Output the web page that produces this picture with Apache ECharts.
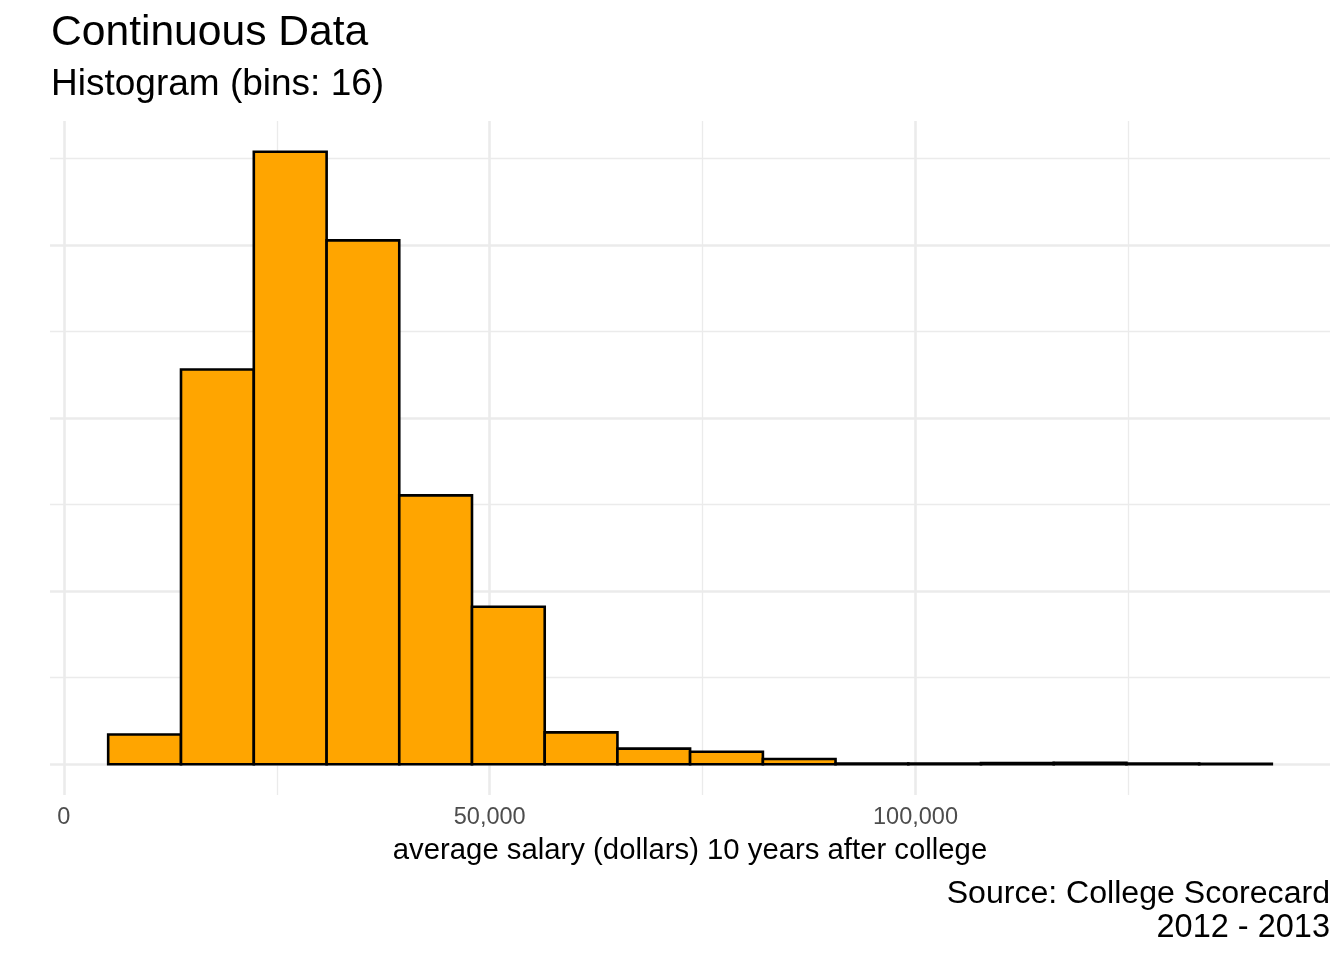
<!DOCTYPE html>
<html>
	<head>
		<meta charset="utf-8">
		<title>Continuous Data</title>
		<script src="https://cdn.jsdelivr.net/npm/echarts@6/dist/echarts.min.js"></script>
	</head>
	<body style="margin: 0; overflow: hidden; background: #fff;">
		<div id="main" style="width: 1344px; height: 960px;"></div>
		<script type="text/javascript">
			// bin edges (dollars), 16 bins
			var binEdges = [5200, 13750, 22300, 30850, 39380, 47920, 56460, 65000, 73530,
				82080, 90610, 99150, 107690, 116230, 124770, 133310, 141840];
			// number of colleges per bin
			var counts = [86, 1141, 1770, 1514, 777, 455, 92, 45, 36, 15, 2, 2, 3, 4, 2, 1];

			var xLabels = [0, 50000, 100000];
			var xMajor = [0, 50000, 100000];
			var xMinor = [25000, 75000, 125000];
			var yMajor = [0, 500, 1000, 1500];
			var yMinor = [250, 750, 1250, 1750];

			var font = "'Liberation Sans', Arial, sans-serif";

			var bins = [];
			for (var i = 0; i < counts.length; i++) {
				bins.push([binEdges[i], binEdges[i + 1], counts[i]]);
			}

			// gridlines, like ggplot's theme_minimal
			var grid = [];
			xMajor.forEach(function (v) { grid.push({ xAxis: v, lineStyle: { width: 2.6 } }); });
			xMinor.forEach(function (v) { grid.push({ xAxis: v, lineStyle: { width: 1.3 } }); });
			yMajor.forEach(function (v) { grid.push({ yAxis: v, lineStyle: { width: 2.6 } }); });
			yMinor.forEach(function (v) { grid.push({ yAxis: v, lineStyle: { width: 1.3 } }); });

			var myChart = echarts.init(document.getElementById('main'));

			var option = {
				animation: false,
				grid: {
					left: 50,
					right: 14,
					top: 121,
					bottom: 165
				},
				xAxis: {
					type: 'value',
					min: -1632,
					max: 148672,
					axisLine: { show: false },
					axisTick: { show: false },
					splitLine: { show: false },
					axisLabel: {
						customValues: xLabels,
						margin: 11,
						color: '#4d4d4d',
						fontFamily: font,
						fontSize: 23.5,
						formatter: function (v) {
							return v.toString().replace(/\B(?=(\d{3})+(?!\d))/g, ',');
						}
					},
					name: 'average salary (dollars) 10 years after college',
					nameLocation: 'middle',
					nameGap: 41,
					nameTextStyle: {
						color: '#000',
						fontFamily: font,
						fontSize: 29.3
					}
				},
				yAxis: {
					type: 'value',
					min: -89,
					max: 1859,
					axisLine: { show: false },
					axisTick: { show: false },
					axisLabel: { show: false },
					splitLine: { show: false }
				},
				graphic: [
					{ type: 'text', x: 51, y: 33, style: { text: 'Continuous Data', font: '42.6px ' + font, fill: '#000', textVerticalAlign: 'middle' } },
					{ type: 'text', x: 51, y: 85, style: { text: 'Histogram (bins: 16)', font: '37px ' + font, fill: '#000', textVerticalAlign: 'middle' } },
					{ type: 'text', x: 1330, y: 894, style: { text: 'Source: College Scorecard', font: '32.1px ' + font, fill: '#000', textAlign: 'right', textVerticalAlign: 'middle' } },
					{ type: 'text', x: 1330, y: 928, style: { text: '2012 - 2013', font: '32.5px ' + font, fill: '#000', textAlign: 'right', textVerticalAlign: 'middle' } }
				],
				series: [
					{
						type: 'custom',
						z: 2,
						silent: true,
						data: bins,
						encode: { x: [0, 1], y: 2 },
						renderItem: function (params, api) {
							var p0 = api.coord([api.value(0), api.value(2)]);
							var p1 = api.coord([api.value(1), 0]);
							return {
								type: 'rect',
								shape: { x: p0[0], y: p0[1], width: p1[0] - p0[0], height: p1[1] - p0[1] },
								style: { fill: '#FFA500', stroke: '#000', lineWidth: 2.6 }
							};
						},
						markLine: {
							silent: true,
							z: 1,
							symbol: ['none', 'none'],
							label: { show: false },
							lineStyle: { color: '#ebebeb', type: 'solid' },
							data: grid
						}
					}
				]
			};
			myChart.setOption(option);
		</script>
	</body>
</html>
